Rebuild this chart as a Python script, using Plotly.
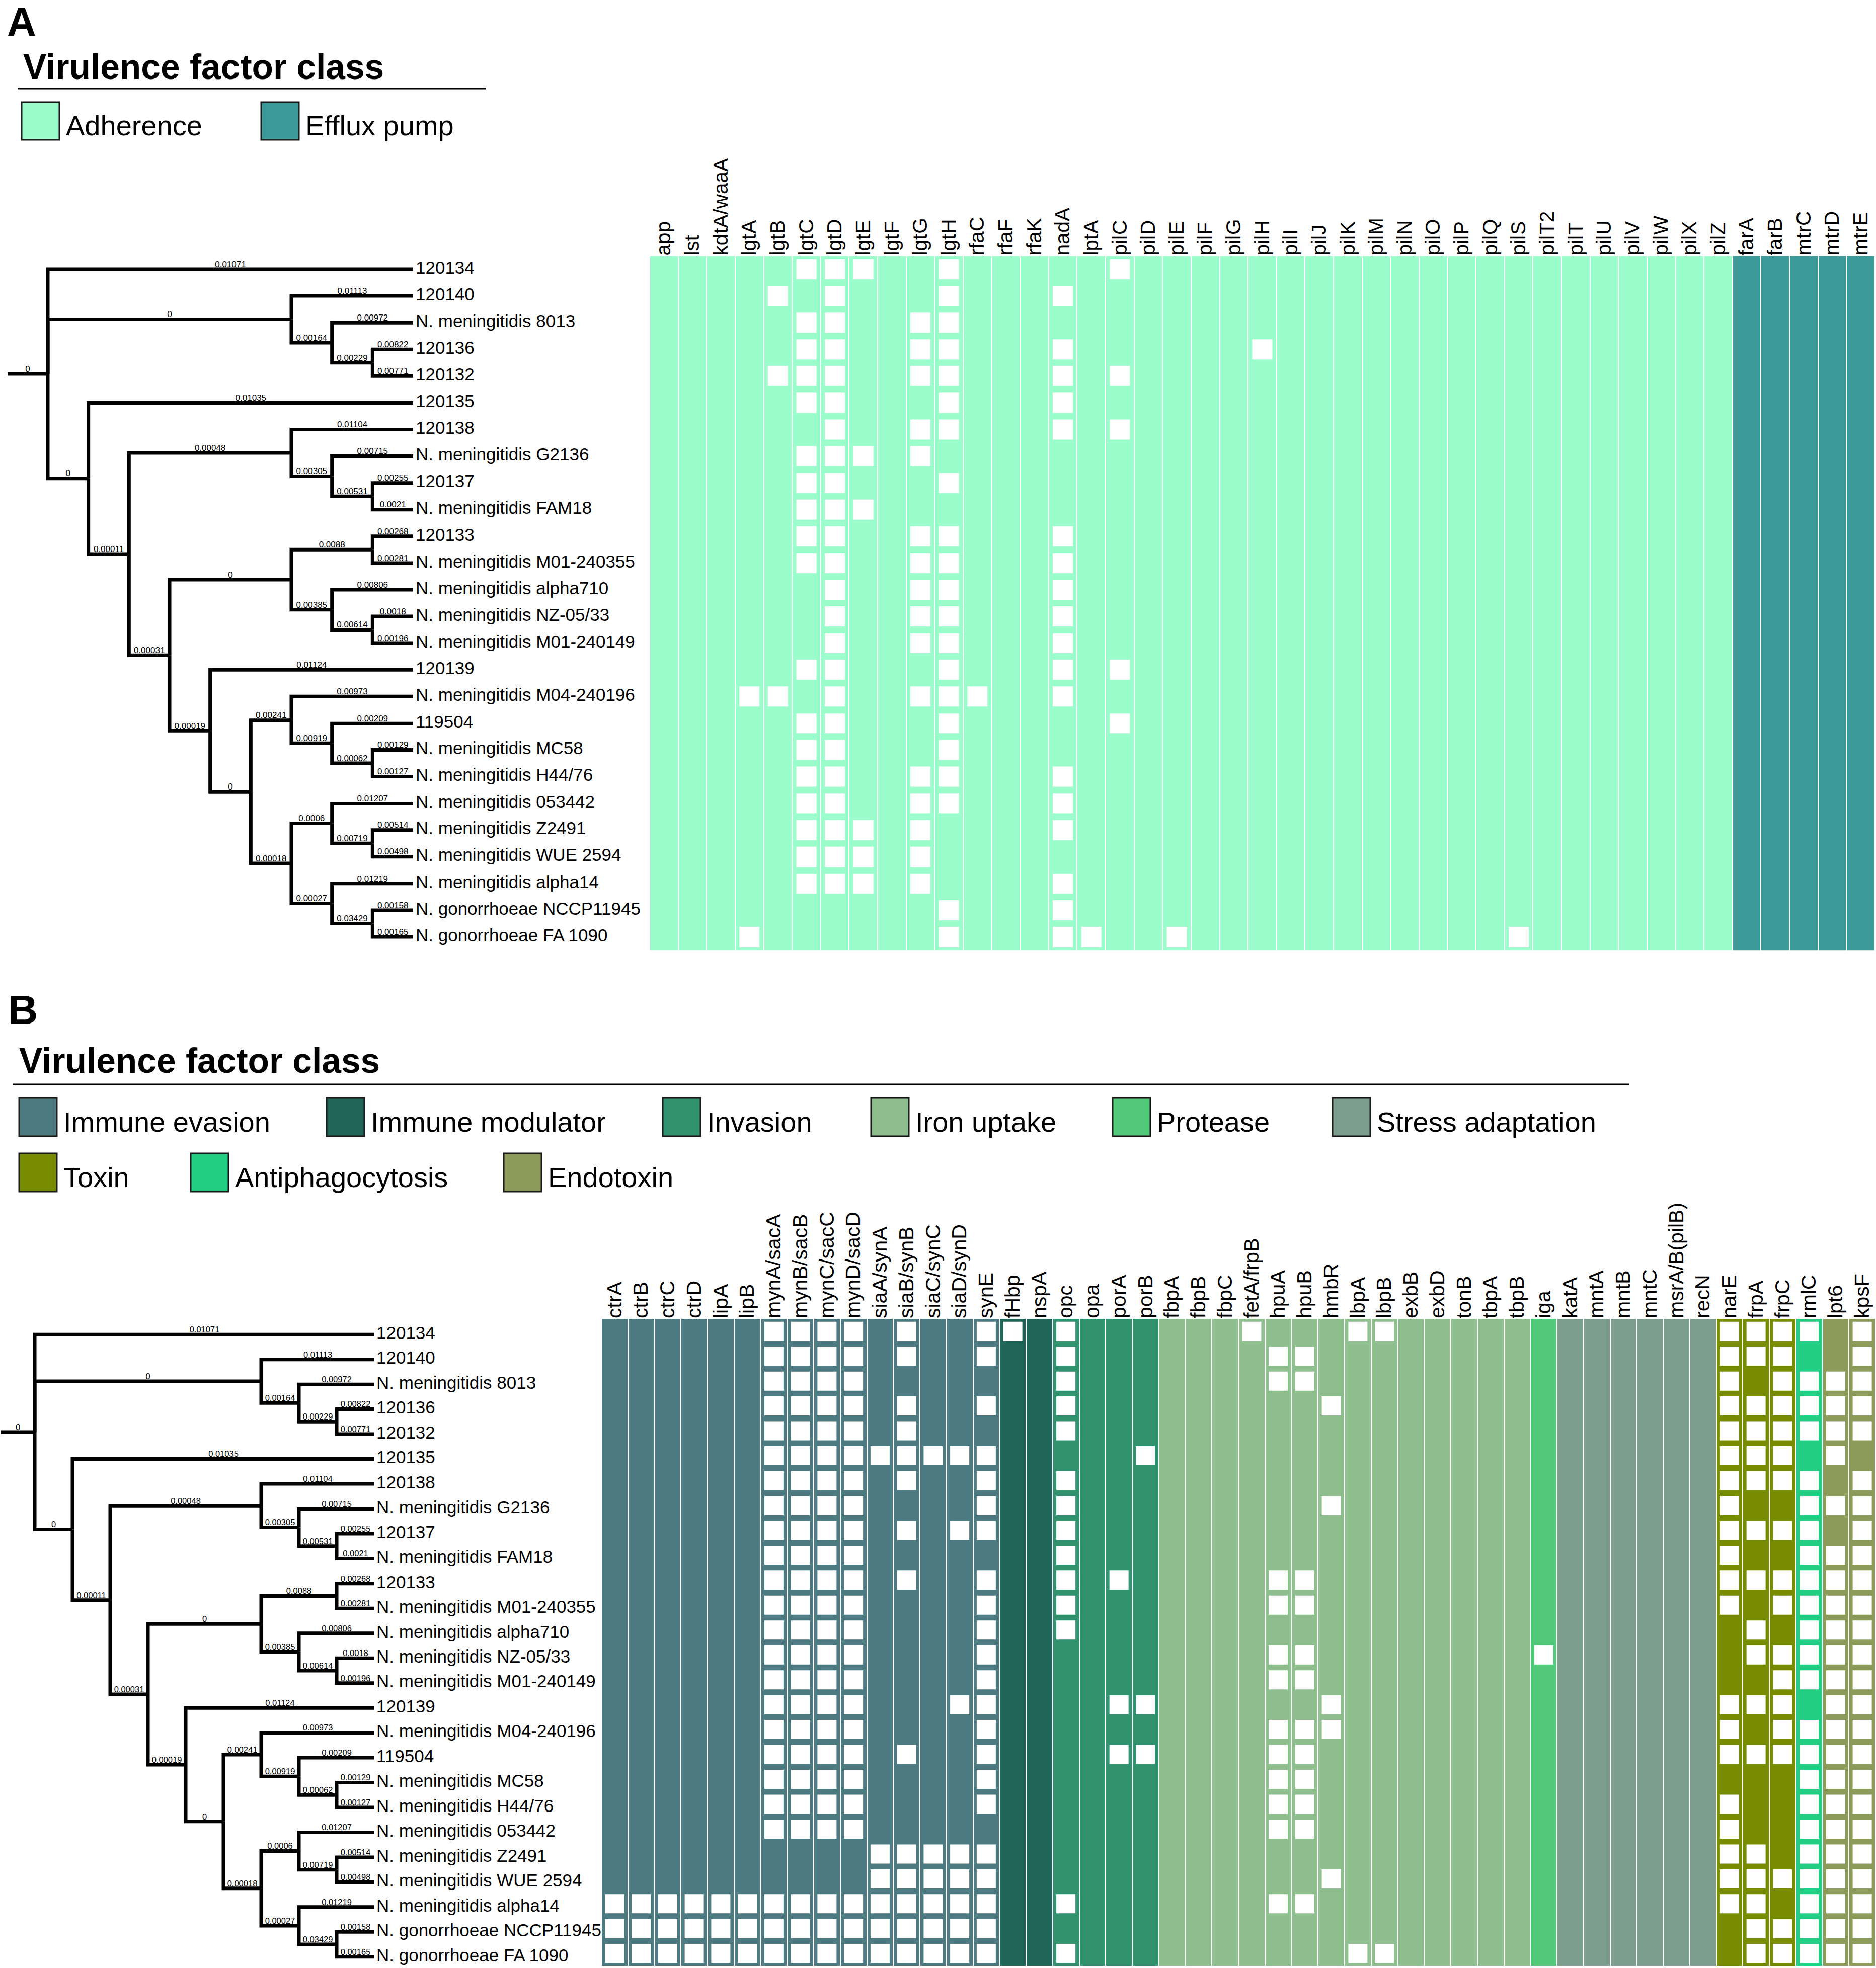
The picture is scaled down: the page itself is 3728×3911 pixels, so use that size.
import plotly.graph_objects as go

W, H = 3728, 3911
FONT = "Liberation Sans, Arial, Helvetica, sans-serif"

# ---------------- data ----------------
NEWICK = ("(120134:0.01071,(120140:0.01113,(N. meningitidis 8013:0.00972,(120136:0.00822,120132:0.00771):0.00229):0.00164):0,"
          "(120135:0.01035,((120138:0.01104,(N. meningitidis G2136:0.00715,(120137:0.00255,N. meningitidis FAM18:0.0021):0.00531):0.00305):0.00048,"
          "(((120133:0.00268,N. meningitidis M01-240355:0.00281):0.0088,(N. meningitidis alpha710:0.00806,"
          "(N. meningitidis NZ-05/33:0.0018,N. meningitidis M01-240149:0.00196):0.00614):0.00385):0,"
          "(120139:0.01124,((N. meningitidis M04-240196:0.00973,(119504:0.00209,(N. meningitidis MC58:0.00129,N. meningitidis H44/76:0.00127):0.00062):0.00919):0.00241,"
          "((N. meningitidis 053442:0.01207,(N. meningitidis Z2491:0.00514,N. meningitidis WUE 2594:0.00498):0.00719):0.0006,"
          "(N. meningitidis alpha14:0.01219,(N. gonorrhoeae NCCP11945:0.00158,N. gonorrhoeae FA 1090:0.00165):0.03429):0.00027):0.00018):0):0.00019):0.00031):0.00011):0):0;")

CLASSES_A = ["Adherence", "Efflux pump"]
COLORS_A = ["#9CFDCC", "#3C9B99"]
GENES_A = [
    ["app", "lst", "kdtA/waaA", "lgtA", "lgtB", "lgtC", "lgtD", "lgtE", "lgtF", "lgtG", "lgtH",
     "rfaC", "rfaF", "rfaK", "nadA", "lptA", "pilC", "pilD", "pilE", "pilF", "pilG", "pilH", "pilI",
     "pilJ", "pilK", "pilM", "pilN", "pilO", "pilP", "pilQ", "pilS", "pilT2", "pilT", "pilU", "pilV",
     "pilW", "pilX", "pilZ"],
    ["farA", "farB", "mtrC", "mtrD", "mtrE"],
]
# rows (taxa in tree order) where the gene is absent (white square)
ABSENT_A = {
    "lgtA": [16, 25],
    "lgtB": [1, 4, 16],
    "lgtC": [0, 2, 3, 4, 5, 7, 8, 9, 10, 11, 15, 17, 18, 19, 20, 21, 22, 23],
    "lgtD": [0, 1, 2, 3, 4, 5, 6, 7, 8, 9, 10, 11, 12, 13, 14, 15, 16, 17, 18, 19, 20, 21, 22, 23],
    "lgtE": [0, 7, 9, 21, 22, 23],
    "lgtG": [2, 3, 4, 6, 7, 10, 11, 12, 13, 14, 16, 19, 20, 21, 22, 23],
    "lgtH": [0, 1, 2, 3, 4, 5, 6, 8, 10, 11, 12, 13, 14, 15, 16, 17, 18, 19, 20, 24, 25],
    "rfaC": [16],
    "nadA": [1, 3, 4, 5, 6, 10, 11, 12, 13, 14, 15, 16, 19, 20, 21, 23, 24, 25],
    "lptA": [25],
    "pilC": [0, 4, 6, 15, 17],
    "pilE": [25],
    "pilH": [3],
    "pilS": [25],
}

CLASSES_B = ["Immune evasion", "Immune modulator", "Invasion", "Iron uptake", "Protease",
             "Stress adaptation", "Toxin", "Antiphagocytosis", "Endotoxin"]
COLORS_B = ["#4D7A80", "#1F6658", "#31926F", "#8FBF8F", "#52C87A", "#7D9E8E", "#778C00", "#22CE84", "#8C9B5A"]
GENES_B = [
    ["ctrA", "ctrB", "ctrC", "ctrD", "lipA", "lipB", "mynA/sacA", "mynB/sacB", "mynC/sacC", "mynD/sacD",
     "siaA/synA", "siaB/synB", "siaC/synC", "siaD/synD", "synE"],
    ["fHbp", "nspA"],
    ["opc", "opa", "porA", "porB"],
    ["fbpA", "fbpB", "fbpC", "fetA/frpB", "hpuA", "hpuB", "hmbR", "lbpA", "lbpB", "exbB", "exbD",
     "tonB", "tbpA", "tbpB"],
    ["iga"],
    ["katA", "mntA", "mntB", "mntC", "msrA/B(pilB)", "recN"],
    ["narE", "frpA", "frpC"],
    ["rmlC"],
    ["lpt6", "kpsF"],
]
MYN_ABSENT = [0, 1, 2, 3, 4, 5, 6, 7, 8, 9, 10, 11, 12, 13, 14, 15, 16, 17, 18, 19, 20, 23, 24, 25]
HPU_ABSENT = [1, 2, 10, 11, 13, 14, 16, 17, 18, 19, 20, 23]
ABSENT_B = {
    "ctrA": [23, 24, 25], "ctrB": [23, 24, 25], "ctrC": [23, 24, 25], "ctrD": [23, 24, 25],
    "lipA": [23, 24, 25], "lipB": [23, 24, 25],
    "mynA/sacA": MYN_ABSENT, "mynB/sacB": MYN_ABSENT, "mynC/sacC": MYN_ABSENT, "mynD/sacD": MYN_ABSENT,
    "siaA/synA": [5, 21, 22, 23, 24, 25],
    "siaB/synB": [0, 1, 3, 4, 5, 6, 8, 10, 17, 21, 22, 23, 24, 25],
    "siaC/synC": [5, 21, 22, 23, 24, 25],
    "siaD/synD": [5, 8, 15, 21, 22, 23, 24, 25],
    "synE": [0, 1, 3, 5, 6, 7, 8, 10, 11, 12, 13, 14, 15, 16, 17, 18, 19, 21, 22, 23, 24, 25],
    "fHbp": [0],
    "opc": [0, 1, 2, 3, 4, 6, 7, 8, 9, 10, 11, 12, 23, 25],
    "porA": [10, 15, 17],
    "porB": [5, 15, 17],
    "fetA/frpB": [0],
    "hpuA": HPU_ABSENT, "hpuB": HPU_ABSENT,
    "hmbR": [3, 7, 15, 16, 22],
    "lbpA": [0, 25], "lbpB": [0, 25],
    "iga": [13],
    "narE": [0, 1, 2, 3, 4, 5, 6, 7, 8, 9, 10, 11, 15, 16, 17, 19, 20, 21, 22, 23],
    "frpA": [0, 1, 3, 4, 5, 6, 8, 10, 12, 13, 15, 17, 21, 22, 23, 24, 25],
    "frpC": [0, 1, 2, 3, 4, 5, 6, 8, 10, 11, 13, 14, 15, 16, 17, 22, 24, 25],
    "rmlC": [0, 2, 3, 4, 6, 7, 8, 9, 10, 11, 12, 13, 14, 16, 17, 18, 19, 20, 21, 22, 23, 24, 25],
    "lpt6": [2, 3, 4, 5, 7, 9, 10, 11, 12, 13, 14, 15, 16, 17, 18, 19, 20, 21, 22, 23, 24, 25],
    "kpsF": [0, 1, 2, 3, 4, 6, 7, 8, 9, 10, 11, 12, 13, 14, 15, 16, 17, 18, 19, 20, 21, 22, 23, 24, 25],
}

# ---------------- layout constants (pixels) ----------------
A_TOP, A_BOT, A_HL, A_HR = 508.5, 1888.5, 1291, 3726
B_TOP, B_BOT, B_HL, B_HR = 2621, 3907, 1195, 3727
B_TREE_SHIFT = 6.5


def parse_newick(s):
    pos = 0

    def node():
        nonlocal pos
        n = {"children": [], "name": "", "len": ""}
        if s[pos] == "(":
            pos += 1
            while True:
                n["children"].append(node())
                if s[pos] == ",":
                    pos += 1
                    continue
                if s[pos] == ")":
                    pos += 1
                    break
        st = pos
        while pos < len(s) and s[pos] not in ":,);":
            pos += 1
        n["name"] = s[st:pos].strip()
        if pos < len(s) and s[pos] == ":":
            pos += 1
            st = pos
            while s[pos] not in ",);":
                pos += 1
            n["len"] = s[st:pos]
        return n

    return node()


def layout_tree(root):
    tips = []

    def rec(n):
        if not n["children"]:
            n["y"] = len(tips)
            n["h"] = 0
            tips.append(n["name"])
        else:
            for c in n["children"]:
                rec(c)
            n["y"] = (n["children"][0]["y"] + n["children"][-1]["y"]) / 2
            n["h"] = 1 + max(c["h"] for c in n["children"])

    rec(root)
    return tips


ROOT = parse_newick(NEWICK)
TAXA = layout_tree(ROOT)
assert len(TAXA) == 26

fig = go.Figure()


def add_tree(xa, ya, stub_x, root_x, tip_x, lw, lab_size, tip_size, tip_gap):
    step = (tip_x - root_x) / ROOT["h"]

    def X(n):
        return tip_x - n["h"] * step

    xs = [stub_x, X(ROOT), None]
    ys = [ROOT["y"], ROOT["y"], None]
    lx, ly, lt = [(stub_x + X(ROOT)) / 2], [ROOT["y"]], [ROOT["len"]]
    tx, ty, tt = [], [], []

    def rec(n):
        nx = X(n)
        for c in n["children"]:
            cx = X(c)
            xs.extend([nx, nx, cx, None])
            ys.extend([n["y"], c["y"], c["y"], None])
            lx.append((nx + cx) / 2)
            ly.append(c["y"])
            lt.append(c["len"])
            rec(c)
        if not n["children"]:
            tx.append(nx + tip_gap)
            ty.append(n["y"])
            tt.append(n["name"])

    rec(ROOT)
    fig.add_trace(go.Scatter(x=xs, y=ys, mode="lines", line=dict(color="black", width=lw),
                             xaxis=xa, yaxis=ya, hoverinfo="skip", cliponaxis=False))
    fig.add_trace(go.Scatter(x=lx, y=ly, mode="text", text=lt, textposition="top center",
                             textfont=dict(family=FONT, size=lab_size, color="black"),
                             xaxis=xa, yaxis=ya, hoverinfo="skip", cliponaxis=False))
    fig.add_trace(go.Scatter(x=tx, y=ty, mode="text", text=tt, textposition="middle right",
                             textfont=dict(family=FONT, size=tip_size, color="black"),
                             xaxis=xa, yaxis=ya, hoverinfo="skip", cliponaxis=False))


def add_heat(groups, colors, absent, xa, ya, sq):
    genes = [g for gs in groups for g in gs]
    cls = [i for i, gs in enumerate(groups) for _ in gs]
    k = len(groups)
    z = [[cls[j] + 0.5 for j in range(len(genes))] for _ in TAXA]
    cs = []
    for i, c in enumerate(colors):
        cs += [[i / k, c], [(i + 1) / k, c]]
    fig.add_trace(go.Heatmap(z=z, x=list(range(len(genes))), y=list(range(len(TAXA))),
                             zmin=0, zmax=k, colorscale=cs, showscale=False, xgap=2,
                             xaxis=xa, yaxis=ya, hoverinfo="skip"))
    mx, my = [], []
    for j, g in enumerate(genes):
        for r in absent.get(g, []):
            mx.append(j)
            my.append(r)
    fig.add_trace(go.Scatter(x=mx, y=my, mode="markers",
                             marker=dict(symbol="square", size=sq, color="white", line=dict(width=0)),
                             xaxis=xa, yaxis=ya, hoverinfo="skip"))
    return genes


add_tree("x", "y", 15, 95, 821, 7, 17, 35, 5)
genes_a = add_heat(GENES_A, COLORS_A, ABSENT_A, "x2", "y", 40)
add_tree("x3", "y3", 2, 69, 744, 7, 16.5, 35, 4)
genes_b = add_heat(GENES_B, COLORS_B, ABSENT_B, "x4", "y2", 38)


def PX(x):
    return x / W


def PY(y):
    return 1 - y / H


shapes, annos = [], []


def text(x, y, s, size, bold=False):
    annos.append(dict(x=PX(x), y=PY(y), xref="paper", yref="paper", text=("<b>%s</b>" % s) if bold else s,
                      showarrow=False, xanchor="left", yanchor="middle",
                      font=dict(family=FONT, size=size, color="black")))


def box(x0, y0, x1, y1, color):
    shapes.append(dict(type="rect", xref="paper", yref="paper", x0=PX(x0), x1=PX(x1), y0=PY(y0), y1=PY(y1),
                       fillcolor=color, line=dict(color="#1a1a1a", width=3)))


def hline(x0, x1, y):
    shapes.append(dict(type="line", xref="paper", yref="paper", x0=PX(x0), x1=PX(x1), y0=PY(y), y1=PY(y),
                       line=dict(color="black", width=3)))


# Panel A header + legend
text(12, 44, "A", 80, True)
text(44, 133, "Virulence factor class", 69.5, True)
hline(35, 966, 176)
for (bx, name, col) in zip([43, 519], CLASSES_A, COLORS_A):
    box(bx, 203, bx + 75, 278, col)
    text(bx + 86, 249, name, 56)

# Panel B header + legend
text(14, 2006, "B", 82, True)
text(36, 2108, "Virulence factor class", 69.5, True)
hline(25, 3238, 2155)
LEG_B_X = [38, 649, 1317, 1731, 2211, 2648, 38, 379, 1001]
LEG_B_ROW = [0, 0, 0, 0, 0, 0, 1, 1, 1]
for bx, rw, name, col in zip(LEG_B_X, LEG_B_ROW, CLASSES_B, COLORS_B):
    y0 = 2182 if rw == 0 else 2292
    box(bx, y0, bx + 75, y0 + 76, col)
    text(bx + 86, y0 + 47, name, 56)

axis_off = dict(visible=False, showgrid=False, zeroline=False, fixedrange=True)


def top_axis(dom, n, genes, size, anchor):
    return dict(domain=dom, range=[-0.5, n - 0.5], anchor=anchor, side="top", tickmode="array",
                tickvals=list(range(n)), ticktext=genes, tickangle=-90, ticks="",
                tickfont=dict(family=FONT, size=size, color="black"),
                showgrid=False, zeroline=False, showline=False, fixedrange=True)


# tree B axis: same row pitch as heatmap B, shifted slightly down, domain kept inside the page
row_h_b = (B_BOT - B_TOP) / len(TAXA)
tb_top = B_TOP + B_TREE_SHIFT
tb_span_rows = (H - tb_top) / row_h_b

fig.update_layout(
    width=W, height=H, margin=dict(l=0, r=0, t=0, b=0),
    paper_bgcolor="white", plot_bgcolor="white", showlegend=False,
    xaxis=dict(domain=[0, PX(A_HL)], range=[0, A_HL], anchor="y", **axis_off),
    yaxis=dict(domain=[PY(A_BOT), PY(A_TOP)], range=[25.5, -0.5], anchor="x", **axis_off),
    xaxis2=top_axis([PX(A_HL), PX(A_HR)], len(genes_a), genes_a, 40.5, "y"),
    xaxis3=dict(domain=[0, PX(B_HL)], range=[0, B_HL], anchor="y3", **axis_off),
    yaxis2=dict(domain=[PY(B_BOT), PY(B_TOP)], range=[25.5, -0.5], anchor="x4", **axis_off),
    yaxis3=dict(domain=[0, PY(tb_top)], range=[-0.5 + tb_span_rows, -0.5], anchor="x3", **axis_off),
    xaxis4=top_axis([PX(B_HL), PX(B_HR)], len(genes_b), genes_b, 41, "y2"),
    shapes=shapes, annotations=annos,
)

fig.write_html("out.html", config={"displayModeBar": False},
               post_script="document.body.style.margin='0px';document.body.style.overflow='hidden';")
